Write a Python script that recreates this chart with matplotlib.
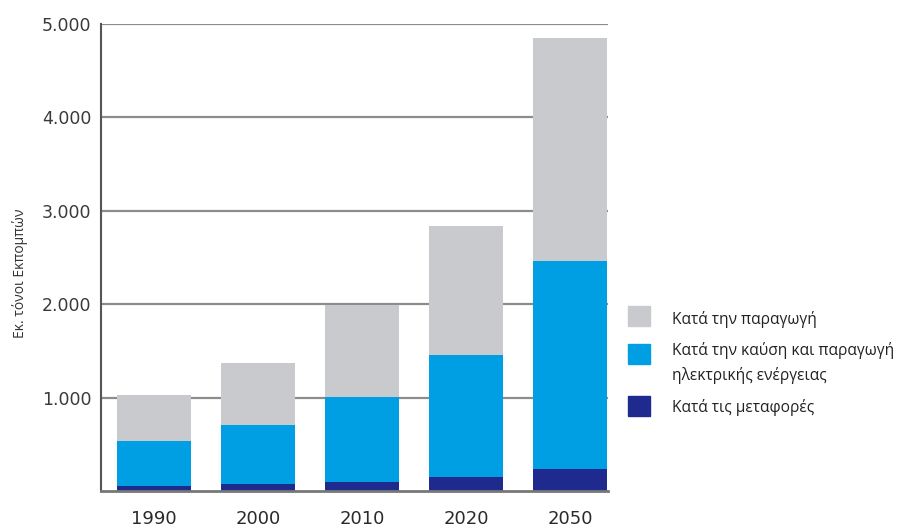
import numpy as np
import matplotlib.pyplot as plt
from matplotlib.patches import Rectangle

# Εκπομπές ανά κατηγορία (εκ. τόνοι)
years = ["1990", "2000", "2010", "2020", "2050"]
transport = [55, 75, 100, 145, 235]
combustion = [480, 635, 910, 1310, 2225]
production = [490, 665, 985, 1385, 2390]

labels = ["Κατά την παραγωγή",
          "Κατά την καύση και παραγωγή\nηλεκτρικής ενέργειας",
          "Κατά τις μεταφορές"]
colors = ["#c9cacd", "#009fe3", "#1f2a8e"]

fig = plt.figure(figsize=(8.99, 5.24), dpi=100)
ax = fig.add_axes([101 / 899, 33 / 524, 507 / 899, 467 / 524])

x = np.arange(len(years))
w = 0.72
b1 = ax.bar(x, transport, w, color=colors[2], zorder=3)
b2 = ax.bar(x, combustion, w, bottom=transport, color=colors[1], zorder=3)
bottom3 = np.array(transport) + np.array(combustion)
b3 = ax.bar(x, production, w, bottom=bottom3, color=colors[0], zorder=3)

ax.set_xlim(-0.51, 4.365)
ax.set_ylim(0, 5000)
ax.set_yticks([1000, 2000, 3000, 4000, 5000])
ax.set_yticklabels(["1.000", "2.000", "3.000", "4.000", "5.000"])
ax.set_xticks(x)
ax.set_xticklabels(years)
ax.tick_params(axis="y", length=0, pad=7, labelsize=12.5, labelcolor="#3a3a3a")
ax.tick_params(axis="x", length=0, pad=14, labelsize=13, labelcolor="#2a2a2a")
ax.grid(axis="y", color="#8c8c8c", linewidth=1.6, zorder=1)

for s in ["top", "right"]:
    ax.spines[s].set_visible(False)
ax.spines["left"].set_color("#555555")
ax.spines["left"].set_linewidth(1.5)
ax.spines["bottom"].set_color("#777777")
ax.spines["bottom"].set_linewidth(2)
ax.spines["bottom"].set_zorder(4)

fig.text(20 / 899, 1 - 273 / 524, "Εκ. τόνοι Εκπομπών", rotation=90,
         ha="center", va="center", fontsize=10, color="#333333",
         family="Open Sans")

# υπόμνημα
legend_rows = [(316, 320), (354, 363), (406, 407)]
entries = [(labels[0], colors[0]), (labels[1], colors[1]), (labels[2], colors[2])]
for (lab, col), (sq_y, txt_y) in zip(entries, legend_rows):
    fig.patches.append(Rectangle((628 / 899, 1 - (sq_y + 10) / 524), 22 / 899, 20 / 524,
                                 transform=fig.transFigure, color=col))
    fig.text(672 / 899, 1 - txt_y / 524, lab, ha="left", va="center",
             fontsize=11.2, color="#222222", family="Open Sans", linespacing=1.55)

fig.savefig("out.png", dpi=100)
